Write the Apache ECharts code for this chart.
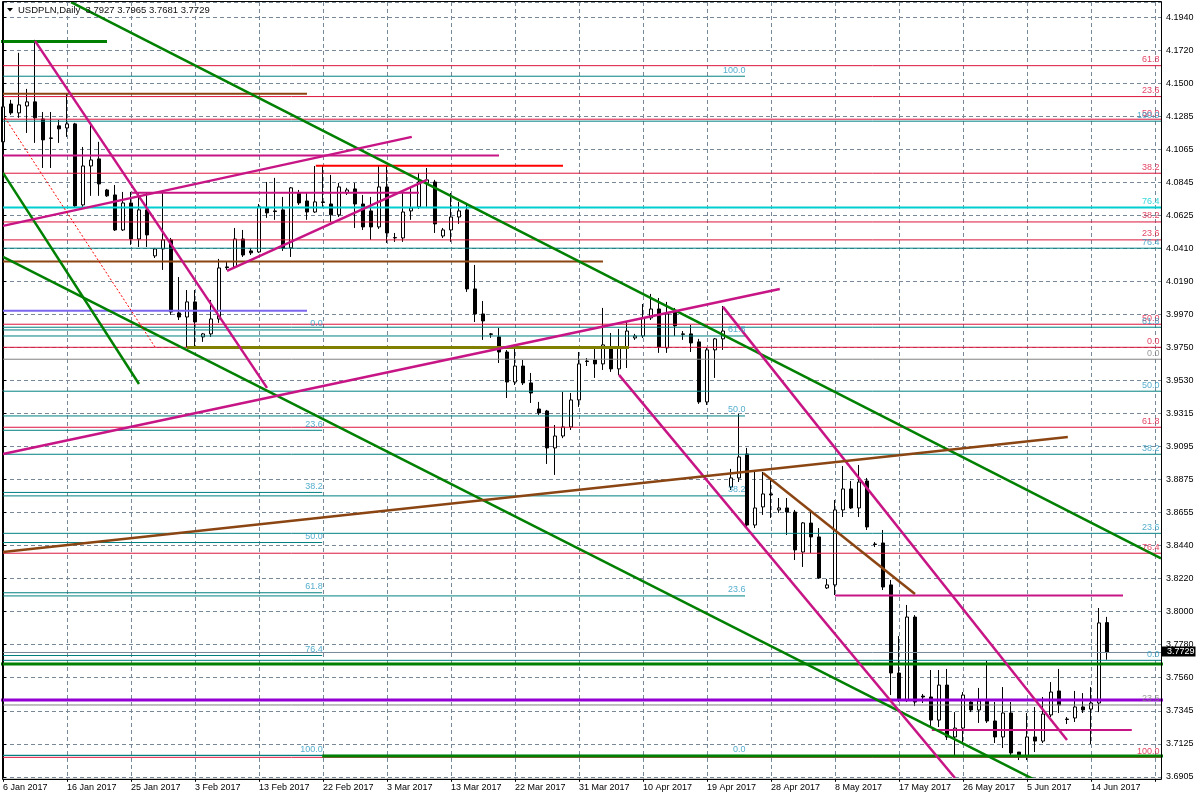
<!DOCTYPE html>
<html>
<head>
<meta charset="utf-8">
<title>USDPLN Daily</title>
<script src="https://cdn.jsdelivr.net/npm/echarts@6/dist/echarts.min.js"></script>
<style>
  html, body { margin: 0; padding: 0; background: #fff; }
  #chart { width: 1200px; height: 800px; }
</style>
</head>
<body>
<div id="chart"></div>
<script>
// tick labels (MT4 style, one bar per trading day incl. Sunday bars)
var dateLabels = ['6 Jan 2017', '16 Jan 2017', '25 Jan 2017', '3 Feb 2017', '13 Feb 2017', '22 Feb 2017',
  '3 Mar 2017', '13 Mar 2017', '22 Mar 2017', '31 Mar 2017', '10 Apr 2017', '19 Apr 2017',
  '28 Apr 2017', '8 May 2017', '17 May 2017', '26 May 2017', '5 Jun 2017', '14 Jun 2017'];
var priceLabels = ['3.6905', '3.7125', '3.7345', '3.7560', '3.7780', '3.8000', '3.8220', '3.8440',
  '3.8655', '3.8875', '3.9095', '3.9315', '3.9530', '3.9750', '3.9970', '4.0190', '4.0410', '4.0625',
  '4.0845', '4.1065', '4.1285', '4.1500', '4.1720', '4.1940'];

// candles
var opens = [4.1114, 4.1365, 4.1306, 4.1352, 4.1379, 4.1266, 4.1140, 4.1220, 4.1206, 4.1233,
  4.0696, 4.0954, 4.1001, 4.0795, 4.0762, 4.0530, 4.0709, 4.0470, 4.0663, 4.0358,
  4.0404, 4.0464, 3.9980, 3.9953, 4.0053, 3.9821, 3.9841, 3.9940, 4.0285, 4.0285,
  4.0470, 4.0391, 4.0384, 4.0676, 4.0656, 4.0663, 4.0411, 4.0775, 4.0722, 4.0649,
  4.0716, 4.0702, 4.0630, 4.0775, 4.0802, 4.0702, 4.0656, 4.0550, 4.0815, 4.0477,
  4.0477, 4.0656, 4.0683, 4.0842, 4.0848, 4.0490, 4.0530, 4.0616, 4.0663, 4.0139,
  3.9973, 3.9841, 3.9821, 3.9721, 3.9522, 3.9628, 3.9516, 3.9343, 3.9330, 3.9085,
  3.9164, 3.9224, 3.9403, 3.9661, 3.9668, 3.9642, 3.9748, 3.9609, 3.9748, 3.9814,
  3.9827, 3.9947, 4.0006, 3.9748, 3.9986, 3.9841, 3.9841, 3.9788, 3.9390, 3.9735,
  3.9808, 3.8826, 3.8886, 3.9045, 3.8574, 3.8694, 3.8780, 3.8674, 3.8687, 3.8660,
  3.8395, 3.8587, 3.8495, 3.8157, 3.8177, 3.8674, 3.8813, 3.8687, 3.8866, 3.8448,
  3.8455, 3.8177, 3.7593, 3.7414, 3.7964, 3.7440, 3.7434, 3.7281, 3.7513, 3.7169,
  3.7228, 3.7401, 3.7348, 3.7407, 3.7275, 3.7169, 3.7328, 3.7069, 3.7043, 3.7169,
  3.7142, 3.7315, 3.7474, 3.7288, 3.7295, 3.7368, 3.7354, 3.7394, 3.7927];
var closes = [4.1346, 4.1306, 4.1359, 4.1379, 4.1273, 4.1127, 4.1137, 4.1200, 4.1233, 4.0689,
  4.0954, 4.0994, 4.0835, 4.0756, 4.0530, 4.0709, 4.0470, 4.0663, 4.0497, 4.0404,
  4.0464, 3.9986, 3.9953, 4.0053, 3.9920, 3.9841, 3.9940, 4.0278, 4.0280, 4.0470,
  4.0364, 4.0378, 4.0683, 4.0643, 4.0652, 4.0411, 4.0809, 4.0709, 4.0649, 4.0716,
  4.0712, 4.0630, 4.0815, 4.0795, 4.0702, 4.0550, 4.0550, 4.0815, 4.0510, 4.0480,
  4.0649, 4.0676, 4.0848, 4.0862, 4.0570, 4.0530, 4.0616, 4.0656, 4.0139, 3.9973,
  3.9927, 3.9838, 3.9721, 3.9522, 3.9628, 3.9516, 3.9449, 3.9317, 3.9085, 3.9164,
  3.9224, 3.9403, 3.9642, 3.9658, 3.9642, 3.9768, 3.9609, 3.9748, 3.9860, 3.9827,
  3.9947, 4.0006, 3.9754, 3.9973, 3.9894, 3.9838, 3.9781, 3.9390, 3.9735, 3.9808,
  3.9860, 3.8886, 3.9025, 3.8574, 3.8687, 3.8780, 3.8774, 3.8687, 3.8660, 3.8409,
  3.8588, 3.8495, 3.8223, 3.8177, 3.8674, 3.8813, 3.8687, 3.8859, 3.8561, 3.8445,
  3.8163, 3.7593, 3.7414, 3.7964, 3.7401, 3.7434, 3.7281, 3.7513, 3.7169, 3.7228,
  3.7447, 3.7348, 3.7407, 3.7275, 3.7169, 3.7328, 3.7063, 3.7043, 3.7169, 3.7142,
  3.7321, 3.7467, 3.7381, 3.7285, 3.7368, 3.7348, 3.7394, 3.7925, 3.7729];
var lows = [4.1027, 4.1293, 4.1273, 4.1173, 4.1107, 4.0941, 4.0941, 4.1107, 4.1147, 4.0676,
  4.0683, 4.0756, 4.0756, 4.0749, 4.0523, 4.0523, 4.0431, 4.0417, 4.0417, 4.0344,
  4.0265, 3.9967, 3.9933, 3.9754, 3.9754, 3.9788, 3.9821, 3.9914, 4.0265, 4.0278,
  4.0351, 4.0364, 4.0378, 4.0610, 4.0597, 4.0391, 4.0351, 4.0696, 4.0597, 4.0643,
  4.0683, 4.0583, 4.0616, 4.0762, 4.0543, 4.0530, 4.0464, 4.0537, 4.0444, 4.0451,
  4.0451, 4.0597, 4.0669, 4.0683, 4.0510, 4.0477, 4.0451, 4.0570, 4.0119, 3.9920,
  3.9801, 3.9815, 3.9648, 3.9416, 3.9502, 3.9502, 3.9383, 3.9304, 3.8979, 3.8906,
  3.9150, 3.9204, 3.9357, 3.9628, 3.9549, 3.9602, 3.9589, 3.9569, 3.9615, 3.9801,
  3.9814, 3.9933, 3.9715, 3.9715, 3.9827, 3.9801, 3.9721, 3.9377, 3.9370, 3.9549,
  3.9735, 3.8806, 3.8859, 3.8554, 3.8554, 3.8641, 3.8621, 3.8654, 3.8508, 3.8342,
  3.8296, 3.8389, 3.8217, 3.8150, 3.8110, 3.8627, 3.8680, 3.8627, 3.8541, 3.8428,
  3.8143, 3.7447, 3.7401, 3.7401, 3.7374, 3.7394, 3.7235, 3.7235, 3.7149, 3.7049,
  3.7135, 3.7334, 3.7262, 3.7262, 3.7129, 3.7096, 3.7049, 3.7016, 3.7016, 3.7069,
  3.7129, 3.7301, 3.7328, 3.7255, 3.7268, 3.7328, 3.7122, 3.7334, 3.7681];
var highs = [4.1412, 4.1392, 4.1704, 4.1465, 4.1790, 4.1312, 4.1312, 4.1259, 4.1438, 4.1240,
  4.1080, 4.1226, 4.1114, 4.0802, 4.0828, 4.0782, 4.0782, 4.0775, 4.0775, 4.0411,
  4.0775, 4.0477, 4.0218, 4.0132, 4.0132, 3.9847, 4.0066, 4.0338, 4.0318, 4.0543,
  4.0530, 4.0411, 4.0702, 4.0848, 4.0875, 4.0749, 4.0815, 4.0795, 4.0775, 4.0954,
  4.0954, 4.0895, 4.0842, 4.0809, 4.0842, 4.0762, 4.0749, 4.0954, 4.0954, 4.0510,
  4.0782, 4.0815, 4.0908, 4.0941, 4.0862, 4.0543, 4.0775, 4.0716, 4.0709, 4.0298,
  4.0059, 3.9847, 3.9880, 3.9734, 3.9754, 3.9668, 3.9582, 3.9390, 3.9337, 3.9237,
  3.9456, 3.9449, 3.9721, 3.9681, 3.9748, 4.0013, 3.9847, 3.9874, 3.9920, 3.9841,
  4.0039, 4.0106, 4.0079, 4.0053, 4.0013, 3.9860, 3.9900, 3.9808, 3.9748, 3.9814,
  4.0026, 3.8946, 3.9310, 3.9085, 3.8926, 3.8926, 3.8886, 3.8753, 3.8753, 3.8674,
  3.8594, 3.8674, 3.8554, 3.8217, 3.8740, 3.8965, 3.8866, 3.8972, 3.8886, 3.8461,
  3.8541, 3.8210, 3.7838, 3.8044, 3.7977, 3.7454, 3.7613, 3.7613, 3.7620, 3.7334,
  3.7467, 3.7407, 3.7494, 3.7673, 3.7401, 3.7500, 3.7401, 3.7069, 3.7328, 3.7368,
  3.7434, 3.7533, 3.7620, 3.7301, 3.7474, 3.7460, 3.7500, 3.8024, 3.7965];

// fibonacci levels: [price, text]
var redLevels = [[4.1619, '61.8'], [4.1414, '23.6'], [4.1264, '50.0'], [4.0906, '38.2'], [4.0583, '38.2'],
  [4.0464, '23.6'], [3.9905, '50.0'], [3.9752, '0.0'], [3.9222, '61.8'], [3.8387, '76.4'], [3.7034, '100.0']];
var tealLevels = [[4.1251, '100.0'], [4.0409, '76.4'], [3.9885, '61.8'], [3.9461, '50.0'], [3.9043, '38.2'],
  [3.8519, '23.6'], [3.7677, '0.0']];
var grayLevels = [[3.9673, '0.0'], [3.7381, '23.6']];
var cyanLevels = [[4.0678, '76.4']];
var midFiboLevels = [[4.1549, '100.0'], [3.9827, '61.8'], [3.9297, '50.0'], [3.8767, '38.2'], [3.8104, '23.6'], [3.7047, '0.0']];
var leftFiboLevels = [[3.9867, '0.0'], [3.9202, '23.6'], [3.8790, '38.2'], [3.8458, '50.0'], [3.8125, '61.8'],
  [3.7709, '76.4'], [3.7047, '100.0']];

// horizontal objects: [fromBar, toBar, price]
var greenSegs = [[-1, 13, 4.1779], [39.9, 146, 3.7043], [-1, 146, 3.7653]];
var brownSegs = [[-1, 38, 4.1432], [-1, 75, 4.0320]];
var magentaSegs = [[-1, 62, 4.1023], [16.1, 52, 4.0777], [104, 140, 3.8106], [116.1, 141.1, 3.7215]];
var redSegs = [[39.1, 70, 4.0956]];
var slateSegs = [[-1, 38, 3.9995]];
var oliveSegs = [[23, 78.25, 3.9750]];
var purpleSegs = [[-1, 146, 3.7414]];

// trend lines: [bar1, price1, bar2, price2]
var greenTrends = [[8.5, 4.2040, 144.75, 3.8353], [0, 4.0351, 129, 3.6884], [0, 4.0908, 17, 3.9509]];
var magentaTrends = [[4, 4.1783, 33, 3.9483], [0, 3.9045, 97.1, 4.0139], [0, 4.0557, 51.1, 4.1147],
  [28, 4.0258, 53, 4.0862], [77, 3.9569, 119, 3.6897], [90, 4.0020, 133, 3.7149]];
var brownTrends = [[0, 3.8395, 133.1, 3.9158], [95, 3.8919, 114, 3.8117]];
var dottedTrends = [[0.25, 4.1273, 19, 3.9754]];

var FONT = '"Liberation Sans", Arial, sans-serif';
var TEAL_TEXT = '#2a9ac0';
var X_MAX = 144.75;
var Y_MIN = 3.6905, Y_STEP = 0.0218913, Y_MAX = 4.2041;
var RIGHT_END = 144.5, MID_END = 92.75, LEFT_END = 39.9;

var chart = echarts.init(document.getElementById('chart'));

function lineSeries(points, color, width, type) {
  return {
    type: 'line', silent: true, animation: false, symbol: 'none', z: 4,
    data: points,
    lineStyle: { color: color, width: width, type: type || 'solid' }
  };
}

function segSeries(segs, color, width) {
  return segs.map(function (s) {
    return lineSeries([[s[0], s[2]], [s[1], s[2]]], color, width);
  });
}

function trendSeries(lines, color, width, type) {
  return lines.map(function (s) {
    return lineSeries([[s[0], s[1]], [s[2], s[3]]], color, width, type);
  });
}

function levelSeries(levels, from, to, color, width) {
  return levels.map(function (l) {
    return lineSeries([[from, l[0]], [to, l[0]]], color, width);
  });
}

function labelSeries(levels, at, color) {
  return {
    type: 'scatter', silent: true, animation: false, z: 6,
    symbolSize: 1, itemStyle: { color: 'rgba(0,0,0,0)' },
    data: levels.map(function (l) { return { name: l[1], value: [at, l[0]] }; }),
    label: {
      show: true, position: [0, 0], align: 'right', verticalAlign: 'bottom', offset: [1, -1],
      color: color, fontSize: 9, fontFamily: FONT, formatter: '{b}'
    }
  };
}

function buildSeries() {
  var candles = opens.map(function (o, i) { return [i, o, closes[i], lows[i], highs[i]]; });
  var s = [{
    type: 'candlestick', silent: true, animation: false, z: 3,
    barWidth: 4,
    data: candles,
    itemStyle: { color: '#ffffff', color0: '#000000', borderColor: '#000000', borderColor0: '#000000', borderWidth: 1 }
  }];
  s = s.concat(levelSeries(redLevels, -1, 146, '#DC143C', 1));
  s = s.concat(levelSeries(tealLevels, -1, 146, '#008080', 1));
  s = s.concat(levelSeries(grayLevels, -1, 146, '#808080', 1));
  s = s.concat(levelSeries(midFiboLevels, -1, MID_END, '#008080', 1));
  s = s.concat(levelSeries(leftFiboLevels, -1, LEFT_END, '#008080', 1));
  s = s.concat(levelSeries(cyanLevels, -1, 146, '#00CED1', 2));
  // bid line
  s.push(lineSeries([[-1, closes[closes.length - 1]], [146, closes[closes.length - 1]]], '#778899', 1));
  s = s.concat(segSeries(brownSegs, '#8B4513', 2));
  s = s.concat(segSeries(magentaSegs, '#C71585', 2));
  s = s.concat(segSeries(redSegs, '#FF0000', 2));
  s = s.concat(segSeries(slateSegs, '#7B68EE', 2));
  s = s.concat(segSeries(oliveSegs, '#808000', 3));
  s = s.concat(segSeries(purpleSegs, '#9400D3', 3));
  s = s.concat(segSeries(greenSegs, '#008000', 3));
  s = s.concat(trendSeries(greenTrends, '#008000', 2.5));
  s = s.concat(trendSeries(magentaTrends, '#C71585', 2.5));
  s = s.concat(trendSeries(brownTrends, '#8B4513', 2.5));
  s = s.concat(trendSeries(dottedTrends, '#FF0000', 1, [2, 2]));
  s.push(labelSeries(redLevels, RIGHT_END, '#DC143C'));
  s.push(labelSeries(tealLevels, RIGHT_END, TEAL_TEXT));
  s.push(labelSeries(grayLevels, RIGHT_END, '#808080'));
  s.push(labelSeries(cyanLevels, RIGHT_END, '#00CED1'));
  s.push(labelSeries(midFiboLevels, MID_END, TEAL_TEXT));
  s.push(labelSeries(leftFiboLevels, LEFT_END, TEAL_TEXT));
  return s;
}

function setChartOption() {
  return {
    backgroundColor: '#ffffff',
    animation: false,
    grid: { left: 3, top: 2, right: 39, bottom: 23.2, containLabel: false, outerBoundsMode: 'none' },
    xAxis: {
      type: 'value', min: 0, max: X_MAX, interval: 8, offset: 2,
      axisLine: { show: true, lineStyle: { color: '#000', width: 1 } },
      axisTick: { show: true, length: 3, lineStyle: { color: '#000' } },
      axisLabel: {
        show: true, align: 'left', margin: 4, color: '#000', fontSize: 9, fontFamily: FONT,
        showMaxLabel: false,
        formatter: function (v) {
          var k = v / 8;
          if (Math.abs(k - Math.round(k)) > 1e-6) return '';
          return dateLabels[Math.round(k)] || '';
        }
      },
      splitLine: { show: true, lineStyle: { color: '#778899', type: [4, 3], width: 1 } }
    },
    yAxis: {
      type: 'value', position: 'right', min: Y_MIN, max: Y_MAX, interval: Y_STEP, scale: true,
      axisLine: { show: true, lineStyle: { color: '#000', width: 1 } },
      axisTick: { show: true, length: 3, lineStyle: { color: '#000' } },
      axisLabel: {
        show: true, margin: 5, color: '#000', fontSize: 9, fontFamily: FONT,
        showMaxLabel: false,
        formatter: function (v) {
          var k = (v - Y_MIN) / Y_STEP;
          if (Math.abs(k - Math.round(k)) > 1e-4) return '';
          return priceLabels[Math.round(k)] || '';
        }
      },
      splitLine: { show: true, lineStyle: { color: '#778899', type: [4, 3], width: 1 } }
    },
    series: buildSeries()
  };
}

chart.setOption(setChartOption());

// header, frame and bid price tag
var last = opens.length - 1;
var header = 'USDPLN,Daily  ' + [opens[last], highs[last], lows[last], closes[last]].map(function (v) { return v.toFixed(4); }).join(' ');
var bidY = chart.convertToPixel({ yAxisIndex: 0 }, closes[last]);
var rightX = chart.convertToPixel({ xAxisIndex: 0 }, X_MAX);
var bottomY = chart.convertToPixel({ yAxisIndex: 0 }, Y_MIN) + 2;

chart.setOption({
  graphic: [
    { type: 'polyline', silent: true, z: 100,
      shape: { points: [[2.5, bottomY + 0.5], [2.5, 1.5], [rightX + 0.5, 1.5], [rightX + 0.5, bottomY + 0.5], [2.5, bottomY + 0.5]] },
      style: { stroke: '#000', lineWidth: 1, fill: null } },
    { type: 'polygon', silent: true, z: 100, shape: { points: [[7, 8], [13, 8], [10, 11.5]] }, style: { fill: '#000' } },
    { type: 'text', silent: true, z: 100, left: 18, top: 5,
      style: { text: header, fill: '#111', font: '9.5px ' + FONT } },
    { type: 'rect', silent: true, z: 100, shape: { x: rightX + 0.5, y: Math.round(bidY) - 5.5, width: 34, height: 10 }, style: { fill: '#000' } },
    { type: 'text', silent: true, z: 101, x: rightX + 6, y: Math.round(bidY),
      style: { text: closes[last].toFixed(4), fill: '#fff', font: '9px ' + FONT, verticalAlign: 'middle' } }
  ]
});
</script>
</body>
</html>
